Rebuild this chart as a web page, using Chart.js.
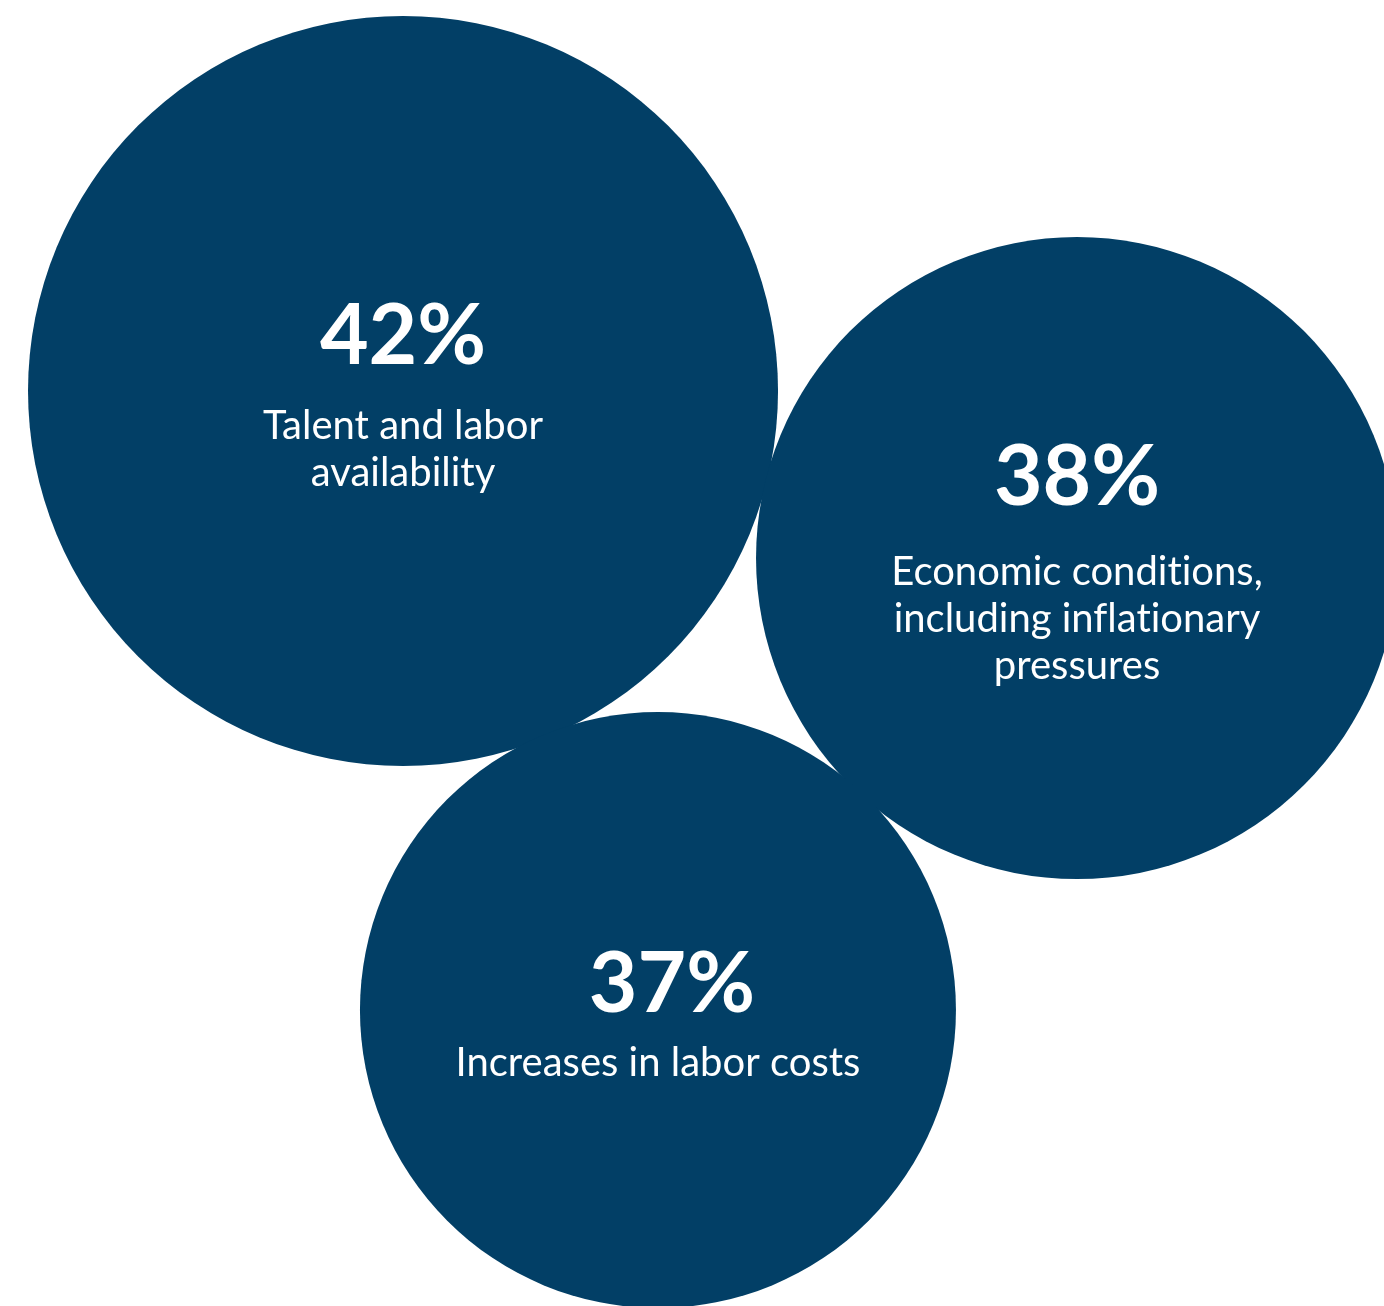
<!DOCTYPE html>
<html>
<head>
<meta charset="utf-8">
<script src="https://cdn.jsdelivr.net/npm/chart.js@4"></script>
<style>
  html, body { margin: 0; padding: 0; background: #ffffff; }
  #bolhas { display: block; }
</style>
</head>
<body>
<canvas id="bolhas" width="1384" height="1306"></canvas>
<script>
// dados
const categories = ["Talent and labor availability", "Economic conditions, including inflationary pressures", "Increases in labor costs"];
const labelLines = [["Talent and labor", "availability"], ["Economic conditions,", "including inflationary", "pressures"], ["Increases in labor costs"]];
const shares = [42, 38, 37];
const bubbleX = [29.12, 77.82, 47.54];
const bubbleY = [29.94, 42.73, 77.34];
const bubbleR = [375, 321, 298];

// sem ligaduras (ti, fi, fl) como na imagem original
function semLigadura(t) {
  return t.replace(/t(?=i)/g, 't\u200C').replace(/f(?=[il])/g, 'f\u200C');
}

// texto dentro das bolhas
const textoBolhas = {
  id: 'textoBolhas',
  afterDatasetsDraw(chart, args, opts) {
    const ctx = chart.ctx;
    const meta = chart.getDatasetMeta(0);
    meta.data.forEach(function(el, i) {
      const lines = labelLines[i];
      const gap = opts.gaps[i];
      const h = opts.capHeight + gap + (lines.length - 1) * opts.lineHeight;
      const top = el.y + opts.shift - h / 2;
      ctx.save();
      ctx.fillStyle = '#ffffff';
      ctx.textAlign = 'center';
      ctx.textBaseline = 'alphabetic';
      ctx.font = '700 84px Lato';
      const base = top + opts.capHeight;
      ctx.fillText(shares[i] + '%', el.x + opts.pctShift[i], base);
      ctx.font = '400 40px Lato';
      lines.forEach(function(t, j) {
        ctx.fillText(semLigadura(t), el.x, base + gap + j * opts.lineHeight);
      });
      ctx.restore();
    });
  }
};

function desenha() {
  const config = {
    type: 'bubble',
    data: {
      labels: categories,
      datasets: [{
        data: shares.map(function(v, i) {
          return { x: bubbleX[i], y: bubbleY[i], r: bubbleR[i], v: v };
        }),
        backgroundColor: '#023f66',
        borderWidth: 0,
        hoverRadius: 0,
        clip: false
      }]
    },
    options: {
      responsive: false,
      animation: false,
      events: [],
      layout: { padding: 0, autoPadding: false },
      plugins: {
        legend: { display: false },
        tooltip: { enabled: false },
        textoBolhas: {
          gaps: [75, 80, 64],
          pctShift: [0, 0, 14],
          capHeight: 60,
          lineHeight: 47,
          shift: 4
        }
      },
      scales: {
        x: { display: false, min: 0, max: 100 },
        y: { display: false, min: 0, max: 100, reverse: true }
      }
    },
    plugins: [textoBolhas]
  };

  new Chart(document.getElementById('bolhas'), config);
}

document.addEventListener("DOMContentLoaded", function() {
  Promise.all([
    document.fonts.load('700 84px Lato'),
    document.fonts.load('400 40px Lato')
  ]).then(desenha, desenha);
});
</script>
</body>
</html>
